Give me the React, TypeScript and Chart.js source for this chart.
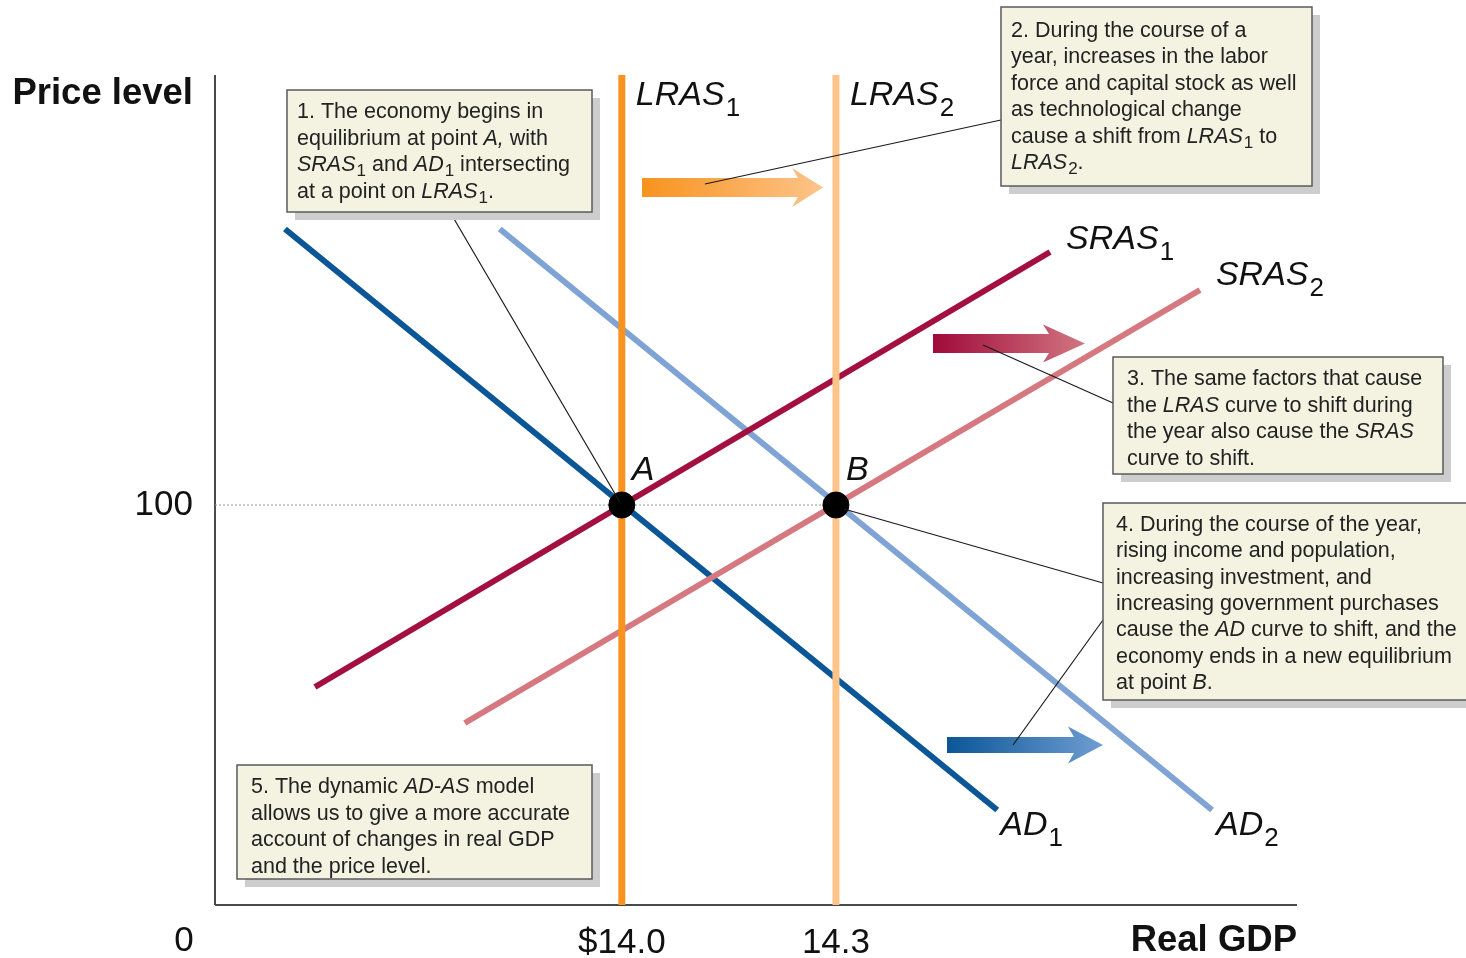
import React, { useEffect, useRef } from "react";
import { Chart, registerables } from "chart.js";

Chart.register(...registerables);

// ---------- data ----------
const xMin = 13.43;
const xMax = 14.946;
const yMin = 0;
const yMax = 207.5;

const gdpTicks = [14.0, 14.3];
const gdpTickLabels = ["$14.0", "14.3"];
const priceTicks = [100];
const priceTickLabels = ["100"];

const lras1X = [14.0, 14.0];
const lras2X = [14.3, 14.3];
const lrasY = [0, 207.5];

const sras1X = [13.57, 14.6];
const sras1Y = [54.5, 163.25];
const sras2X = [13.78, 14.81];
const sras2Y = [45.5, 153.75];

const ad1X = [13.528, 14.526];
const ad1Y = [169, 23.75];
const ad2X = [13.829, 14.827];
const ad2Y = [169, 23.75];

const eqX = [14.0, 14.3];
const eqY = [100, 100];
const eqLabels = ["A", "B"];

const refLineX = [xMin, 14.3];
const refLineY = [100, 100];

const boxTexts: string[][] = [
  ["1. The economy begins in", "equilibrium at point *A,* with", "*SRAS*_1 and *AD*_1 intersecting", "at a point on *LRAS*_1."],
  ["2. During the course of a", "year, increases in the labor", "force and capital stock as well", "as technological change", "cause a shift from *LRAS*_1 to", "*LRAS*_2."],
  ["3. The same factors that cause", "the *LRAS* curve to shift during", "the year also cause the *SRAS*", "curve to shift."],
  ["4. During the course of the year,", "rising income and population,", "increasing investment, and", "increasing government purchases", "cause the *AD* curve to shift, and the", "economy ends in a new equilibrium", "at point *B*."],
  ["5. The dynamic *AD-AS* model", "allows us to give a more accurate", "account of changes in real GDP", "and the price level."],
];

// ---------- layout / style ----------
const W = 1466;
const H = 958;
const FONT = "'Liberation Sans', Arial, Helvetica, sans-serif";

const C = {
  lras1: "#F7931E",
  lras2: "#FDC48A",
  sras1: "#A3103F",
  sras2: "#D6787F",
  ad1: "#0B5697",
  ad2: "#7FA3D4",
};

// box layout in pixels: x, y, w, h, textX, firstBaseline, lineStep
const boxLayout = [
  { x: 287, y: 90, w: 305, h: 122, tx: 297, by: 118, step: 26.6 },
  { x: 1001, y: 7, w: 311, h: 179, tx: 1011, by: 37, step: 26.4 },
  { x: 1113, y: 357, w: 330, h: 117, tx: 1127, by: 385, step: 26.6 },
  { x: 1103, y: 503, w: 380, h: 197, tx: 1116, by: 531, step: 26.3 },
  { x: 237, y: 765, w: 355, h: 114, tx: 251, by: 793, step: 26.5 },
];

const arrows = [
  { x0: 642, x1: 823, y: 187.5, bh: 19, hb: 792, hh: 39, c0: "#F7931E", c1: "#FDC48A" },
  { x0: 933, x1: 1085, y: 343.5, bh: 19, hb: 1043, hh: 38, c0: "#A00A3A", c1: "#D27680" },
  { x0: 947, x1: 1103, y: 745, bh: 16, hb: 1068, hh: 37, c0: "#0B5697", c1: "#6F9DD2" },
];

type Seg = { t: string; it: boolean; sub: boolean };
function parse(s: string): Seg[] {
  const segs: Seg[] = [];
  let it = false;
  let buf = "";
  for (let i = 0; i < s.length; i++) {
    const c = s[i];
    if (c === "*") {
      if (buf) segs.push({ t: buf, it, sub: false });
      buf = "";
      it = !it;
    } else if (c === "_") {
      if (buf) segs.push({ t: buf, it, sub: false });
      buf = "";
      segs.push({ t: s[i + 1], it: false, sub: true });
      i++;
    } else buf += c;
  }
  if (buf) segs.push({ t: buf, it, sub: false });
  return segs;
}

function drawRich(
  ctx: CanvasRenderingContext2D,
  s: string,
  x: number,
  y: number,
  size: number,
  subSize: number,
  subDy: number,
  color: string
) {
  ctx.save();
  ctx.fillStyle = color;
  ctx.textBaseline = "alphabetic";
  ctx.textAlign = "left";
  let cx = x;
  for (const seg of parse(s)) {
    const sz = seg.sub ? subSize : size;
    ctx.font = `${seg.it ? "italic " : ""}${sz}px ${FONT}`;
    ctx.fillText(seg.t, cx + (seg.sub ? 1 : 0), y + (seg.sub ? subDy : 0));
    cx += ctx.measureText(seg.t).width + (seg.sub ? 1 : 0);
  }
  ctx.restore();
}

function line(ctx: CanvasRenderingContext2D, x0: number, y0: number, x1: number, y1: number) {
  ctx.beginPath();
  ctx.moveTo(x0, y0);
  ctx.lineTo(x1, y1);
  ctx.stroke();
}

const pts = (xs: number[], ys: number[]) => xs.map((x, i) => ({ x, y: ys[i] }));

const annotPlugin = {
  id: "annot",
  beforeDatasetsDraw(chart: any) {
    const ctx: CanvasRenderingContext2D = chart.ctx;
    const { left, right, top, bottom } = chart.chartArea;
    ctx.save();
    ctx.strokeStyle = "#4a4a4a";
    ctx.lineWidth = 2;
    line(ctx, left, top, left, bottom);
    line(ctx, left, bottom, right, bottom);
    ctx.restore();
  },
  afterDatasetsDraw(chart: any) {
    const ctx: CanvasRenderingContext2D = chart.ctx;
    const xs = chart.scales.x;
    const ys = chart.scales.y;
    const { right } = chart.chartArea;
    const px = (v: number) => xs.getPixelForValue(v);
    const py = (v: number) => ys.getPixelForValue(v);

    // arrows
    for (const a of arrows) {
      ctx.save();
      const g = ctx.createLinearGradient(a.x0, 0, a.x1, 0);
      g.addColorStop(0, a.c0);
      g.addColorStop(1, a.c1);
      ctx.fillStyle = g;
      ctx.beginPath();
      ctx.moveTo(a.x0, a.y - a.bh / 2);
      ctx.lineTo(a.hb + 6, a.y - a.bh / 2);
      ctx.lineTo(a.hb, a.y - a.hh / 2);
      ctx.lineTo(a.x1, a.y);
      ctx.lineTo(a.hb, a.y + a.hh / 2);
      ctx.lineTo(a.hb + 6, a.y + a.bh / 2);
      ctx.lineTo(a.x0, a.y + a.bh / 2);
      ctx.closePath();
      ctx.fill();
      ctx.restore();
    }

    // leader lines
    ctx.save();
    ctx.strokeStyle = "#1a1a1a";
    ctx.lineWidth = 1.2;
    line(ctx, 450, 212, px(eqX[0]) - 2, py(eqY[0]) - 3);
    line(ctx, 1001, 120, 705, 184);
    line(ctx, 1113, 403, 983, 345);
    line(ctx, 1103, 583, px(eqX[1]) + 8, py(eqY[1]) + 4);
    line(ctx, 1103, 620, 1013, 745);
    ctx.restore();

    // boxes
    boxLayout.forEach((b, i) => {
      ctx.save();
      ctx.fillStyle = "#cdcdcd";
      ctx.fillRect(b.x + 8, b.y + 8, b.w, b.h);
      ctx.fillStyle = "#F4F2E1";
      ctx.fillRect(b.x, b.y, b.w, b.h);
      ctx.strokeStyle = "#5a5a5a";
      ctx.lineWidth = 1.5;
      ctx.strokeRect(b.x, b.y, b.w, b.h);
      ctx.restore();
      boxTexts[i].forEach((t, j) => {
        drawRich(ctx, t, b.tx, b.by + j * b.step, 21.5, 17, 5, "#222222");
      });
    });

    // curve labels
    const lab = (s: string, x: number, y: number) => drawRich(ctx, s, x, y, 34, 26, 11, "#111111");
    lab("*LRAS*_1", px(lras1X[1]) + 14, py(lrasY[1]) + 30);
    lab("*LRAS*_2", px(lras2X[1]) + 14, py(lrasY[1]) + 30);
    lab("*SRAS*_1", px(sras1X[1]) + 16, py(sras1Y[1]) - 3);
    lab("*SRAS*_2", px(sras2X[1]) + 16, py(sras2Y[1]) - 5);
    lab("*AD*_1", px(ad1X[1]) + 3, py(ad1Y[1]) + 25);
    lab("*AD*_2", px(ad2X[1]) + 4, py(ad2Y[1]) + 25);
    eqLabels.forEach((l, i) => lab(`*${l}*`, px(eqX[i]) + 10, py(eqY[i]) - 25));

    // axis labels
    ctx.save();
    ctx.fillStyle = "#111111";
    ctx.textBaseline = "middle";
    ctx.font = `bold 36.5px ${FONT}`;
    ctx.textAlign = "right";
    ctx.fillText("Price level", 193, 94);
    ctx.fillText("Real GDP", right, 941);
    ctx.font = `35px ${FONT}`;
    priceTicks.forEach((v, i) => ctx.fillText(priceTickLabels[i], 193, py(v)));
    ctx.textAlign = "center";
    ctx.fillText("0", 184, 941);
    gdpTicks.forEach((v, i) => ctx.fillText(gdpTickLabels[i], px(v), 943));
    ctx.restore();
  },
};

export default function App() {
  const ref = useRef<HTMLCanvasElement>(null);
  useEffect(() => {
    if (!ref.current) return;
    const chart = new Chart(ref.current, {
      type: "scatter",
      data: {
        datasets: [
          { data: pts(eqX, eqY), pointRadius: 13, pointHoverRadius: 13, backgroundColor: "#000", borderColor: "#000", showLine: false, order: 0 },
          { data: pts(lras1X, lrasY), showLine: true, borderColor: C.lras1, borderWidth: 7, pointRadius: 0, order: 1 },
          { data: pts(lras2X, lrasY), showLine: true, borderColor: C.lras2, borderWidth: 7, pointRadius: 0, order: 2 },
          { data: pts(sras1X, sras1Y), showLine: true, borderColor: C.sras1, borderWidth: 6, pointRadius: 0, order: 3 },
          { data: pts(sras2X, sras2Y), showLine: true, borderColor: C.sras2, borderWidth: 6, pointRadius: 0, order: 4 },
          { data: pts(ad1X, ad1Y), showLine: true, borderColor: C.ad1, borderWidth: 6, pointRadius: 0, order: 5 },
          { data: pts(ad2X, ad2Y), showLine: true, borderColor: C.ad2, borderWidth: 6, pointRadius: 0, order: 6 },
          { data: pts(refLineX, refLineY), showLine: true, borderColor: "#9a9a9a", borderWidth: 1, borderDash: [2, 2], pointRadius: 0, order: 7 },
        ],
      },
      options: {
        responsive: false,
        animation: false,
        devicePixelRatio: 1,
        layout: { padding: { left: 215, right: W - 1297, top: 75, bottom: H - 905 } },
        plugins: { legend: { display: false }, tooltip: { enabled: false } },
        events: [],
        scales: {
          x: { type: "linear", min: xMin, max: xMax, display: false },
          y: { type: "linear", min: yMin, max: yMax, display: false },
        },
      },
      plugins: [annotPlugin],
    });
    return () => chart.destroy();
  }, []);
  return (
    <div style={{ position: "absolute", left: 0, top: 0, width: W, height: H, background: "#fff" }}>
      <canvas ref={ref} width={W} height={H} style={{ display: "block", width: W, height: H }} />
    </div>
  );
}
